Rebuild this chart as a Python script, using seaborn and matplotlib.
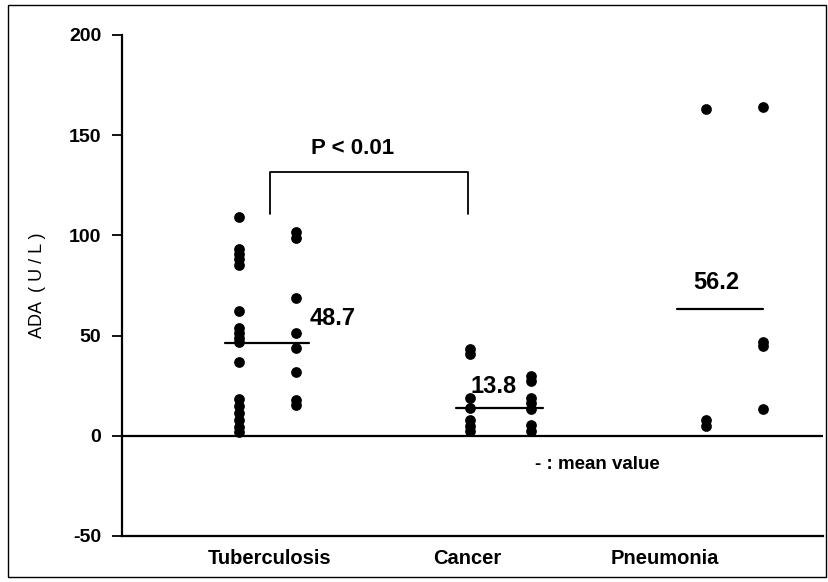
import matplotlib
matplotlib.use("Agg")
import matplotlib.pyplot as plt
import numpy as np
import pandas as pd
import seaborn as sns
from matplotlib.patches import Rectangle

# values (ADA, U/L); each group is drawn as two dot columns
groups = ["Tuberculosis", "Cancer", "Pneumonia"]
tb_left = [109, 93, 90.5, 88, 85, 62.5, 54, 51.5, 49, 47, 37, 18.5, 15, 11.5, 8, 4.5, 2]
tb_right = [101.5, 98.5, 69, 51.5, 44, 32, 18, 15.5]
cancer_left = [43.5, 41, 19, 14, 8, 5, 2.5]
cancer_right = [30, 27.5, 19, 16.5, 13.5, 5.5, 2.5]
pneu_left = [163, 8, 5]
pneu_right = [164, 47, 45, 13.5]

mean_labels = ["48.7", "13.8", "56.2"]
mean_line_level = [46.5, 13.8, 63.3]   # where the mean bars sit in the picture

# layout offsets (in category units) of the two dot columns and the mean bars
col_offsets = [(-0.157, 0.132), (0.015, 0.32), (0.208, 0.497)]
bar_spans = [(-0.228, 0.197), (-0.056, 0.38), (0.06, 0.497)]
label_pos = [(1.203, 58.5), (2.013, 24.5), (3.142, 76.5)]

columns = [(tb_left, tb_right), (cancer_left, cancer_right), (pneu_left, pneu_right)]
rows = []
for gi, (name, (left, right)) in enumerate(zip(groups, columns)):
    for side, vals in enumerate((left, right)):
        for v in vals:
            rows.append({"group": name, "x": gi + 1 + col_offsets[gi][side], "ADA": v})
df = pd.DataFrame(rows)

sns.set_theme(style="ticks")
plt.rcParams["font.family"] = ["Liberation Sans", "DejaVu Sans"]
plt.rcParams["axes.unicode_minus"] = False
for key in ("text.color", "axes.labelcolor", "xtick.color", "ytick.color", "axes.edgecolor"):
    plt.rcParams[key] = "black"

fig = plt.figure(figsize=(8.29, 5.82), dpi=100)
ax = fig.add_axes([122 / 829, 1 - 536 / 582, (823 - 122) / 829, (536 - 35) / 582])

sns.scatterplot(data=df, x="x", y="ADA", color="black", s=60, linewidth=0, ax=ax, legend=False)

for gi in range(3):
    x0, x1 = bar_spans[gi]
    ax.plot([gi + 1 + x0, gi + 1 + x1], [mean_line_level[gi]] * 2, color="black", lw=1.6)
    ax.text(label_pos[gi][0], label_pos[gi][1], mean_labels[gi], fontsize=17,
            fontweight="bold", ha="left", va="center")

ax.axhline(0, color="black", lw=1.6, zorder=1)

# significance bracket between Tuberculosis and Cancer
ax.plot([1, 1, 2, 2], [110.5, 131.5, 131.5, 110.5], color="black", lw=1.3)
ax.text(1.42, 143.5, "P < 0.01", fontsize=16, fontweight="bold", ha="center", va="center")
ax.text(2.66, -14.5, "- : mean value", fontsize=13.5, fontweight="bold", ha="center", va="center")

ax.set_xlim(0.2506, 3.8)
ax.set_ylim(-50, 200)
ax.set_yticks([-50, 0, 50, 100, 150, 200])
ax.set_xticks([1, 2, 3])
ax.set_xticklabels(groups, fontsize=14.5, fontweight="bold")
for lab in ax.get_yticklabels():
    lab.set_fontsize(14)
    lab.set_fontweight("bold")
ax.tick_params(axis="y", length=7, width=1.3, pad=8)
ax.tick_params(axis="x", length=0, pad=9)
ax.set_xlabel("")
ax.set_ylabel("ADA  ( U / L )", fontsize=13, labelpad=16)
for s in ("top", "right"):
    ax.spines[s].set_visible(False)
for s in ("left", "bottom"):
    ax.spines[s].set_linewidth(1.6)

fig.patches.append(Rectangle((8 / 829, 5 / 582), 818 / 829, 572 / 582, transform=fig.transFigure,
                             fill=False, edgecolor="black", lw=1))

fig.savefig("out.png", dpi=100)
